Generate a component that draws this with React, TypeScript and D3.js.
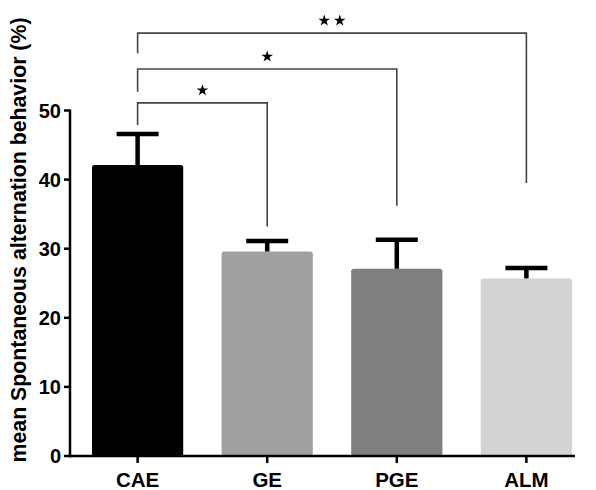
import React from "react";
import * as d3 from "d3";

const categories = ["CAE", "GE", "PGE", "ALM"];
const means = [42.1, 29.6, 27.1, 25.7];
const sems = [4.5, 1.5, 4.2, 1.5];
const barColors = ["#000000", "#a0a0a0", "#7f7f7f", "#d3d3d3"];
const yTicks = [0, 10, 20, 30, 40, 50];

const bracketTargets = ["GE", "PGE", "ALM"];
const bracketLevels = [51.1, 56.0, 61.2];
const bracketLeftEnds = [47.9, 52.7, 58.3];
const bracketRightEnds = [33.2, 36.2, 39.5];
const bracketStars = [1, 1, 2];

const W = 596;
const H = 490;
const FONT = "'Liberation Sans', Arial, sans-serif";

export default function App() {
  const y = d3.scaleLinear().domain([0, 50]).range([456, 110.5]);
  const x = d3.scaleBand<string>().domain(categories).range([92, 572]).paddingInner(0.296).paddingOuter(0);
  const bw = x.bandwidth();
  const cx = (c: string) => (x(c) as number) + bw / 2;
  const star = d3.symbol().type(d3.symbolStar).size(42)() as string;

  return (
    <svg width={W} height={H} style={{ position: "absolute", left: 0, top: 0, background: "#fff" }}>
      {/* bars */}
      {categories.map((c, i) => (
        <rect key={c} x={x(c)} y={y(means[i])} width={bw} height={y(0) - y(means[i])} fill={barColors[i]} rx={2.5} />
      ))}
      {/* error bars */}
      {categories.map((c, i) => (
        <g key={c + "e"} stroke="#000" strokeWidth={4.5}>
          <line x1={cx(c)} x2={cx(c)} y1={y(means[i])} y2={y(means[i] + sems[i])} />
          <line x1={cx(c) - 21} x2={cx(c) + 21} y1={y(means[i] + sems[i])} y2={y(means[i] + sems[i])} />
        </g>
      ))}
      {/* y axis */}
      <line x1={70} x2={70} y1={y(50) - 1} y2={y(0) + 1.2} stroke="#000" strokeWidth={2.5} />
      {yTicks.map((t) => (
        <g key={t}>
          <line x1={64} x2={70} y1={y(t)} y2={y(t)} stroke="#000" strokeWidth={2.5} />
          <text x={61} y={y(t)} dy="0.36em" textAnchor="end" fontFamily={FONT} fontWeight="bold" fontSize={20} fill="#000">
            {t}
          </text>
        </g>
      ))}
      {/* x axis */}
      <line x1={68.8} x2={575} y1={y(0)} y2={y(0)} stroke="#000" strokeWidth={2.5} />
      {categories.map((c) => (
        <g key={c + "t"}>
          <line x1={cx(c)} x2={cx(c)} y1={y(0)} y2={y(0) + 7} stroke="#000" strokeWidth={2.5} />
          <text x={cx(c)} y={486.5} textAnchor="middle" fontFamily={FONT} fontWeight="bold" fontSize={20.5} fill="#000">
            {c}
          </text>
        </g>
      ))}
      {/* y title */}
      <text transform={`translate(25.5,240) rotate(-90)`} textAnchor="middle" fontFamily={FONT} fontWeight="bold" fontSize={21.3} fill="#000">
        mean Spontaneous alternation behavior (%)
      </text>
      {/* significance brackets */}
      {bracketTargets.map((t, i) => {
        const x1 = cx(categories[0]);
        const x2 = cx(t);
        const yl = y(bracketLevels[i]);
        const mid = (x1 + x2) / 2;
        const n = bracketStars[i];
        return (
          <g key={t + "b"}>
            <path
              d={`M${x1},${y(bracketLeftEnds[i])}V${yl}H${x2}V${y(bracketRightEnds[i])}`}
              fill="none"
              stroke="#444"
              strokeWidth={1.6}
            />
            {d3.range(n).map((k) => (
              <path key={k} d={star} fill="#000" transform={`translate(${mid + (k - (n - 1) / 2) * 15.5},${yl - 12.5})`} />
            ))}
          </g>
        );
      })}
    </svg>
  );
}
